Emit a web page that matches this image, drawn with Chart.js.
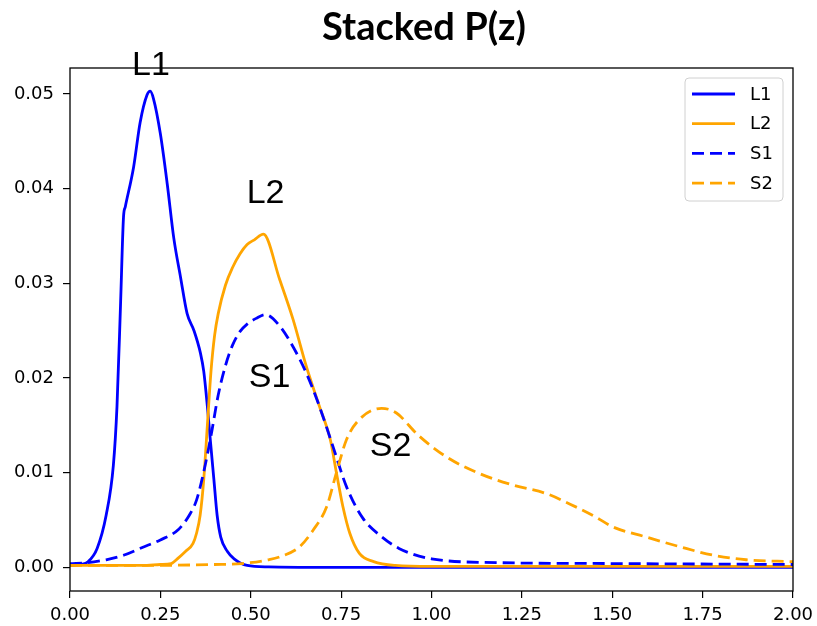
<!DOCTYPE html>
<html>
<head>
<meta charset="utf-8">
<script src="https://cdn.jsdelivr.net/npm/chart.js@4.4.0/dist/chart.umd.min.js"></script>
<style>
  body { margin: 0; background: #fff; }
  canvas { display: block; }
</style>
</head>
<body>
<canvas id="pz-chart" width="817" height="626"></canvas>
<script>
// P(z) curves, one z array and one P array per series
const l1Z = [0, 0.03, 0.05, 0.075, 0.10, 0.12, 0.13, 0.14, 0.148, 0.153, 0.176, 0.194, 0.213, 0.222, 0.231, 0.25, 0.269, 0.287, 0.306, 0.324, 0.343, 0.361, 0.37, 0.38, 0.389, 0.398, 0.407, 0.417, 0.435, 0.454, 0.49, 0.55, 0.7, 1.0, 1.5, 2.0];
const l1P = [0.0002, 0.0003, 0.0006, 0.002, 0.0055, 0.0108, 0.017, 0.028, 0.037, 0.0381, 0.0423, 0.047, 0.0499, 0.0503, 0.0495, 0.0458, 0.0405, 0.0348, 0.0306, 0.0268, 0.025, 0.0226, 0.0207, 0.017, 0.0131, 0.0093, 0.0055, 0.0032, 0.0017, 0.0009, 0.0002, 0.00005, 0, 0, 0, 0];

const l2Z = [0, 0.1, 0.2, 0.25, 0.28, 0.30, 0.32, 0.34, 0.35, 0.36, 0.37, 0.38, 0.39, 0.40, 0.41, 0.43, 0.45, 0.47, 0.49, 0.51, 0.535, 0.58, 0.617, 0.654, 0.69, 0.72, 0.737, 0.755, 0.774, 0.80, 0.84, 0.90, 1.0, 1.5, 2.0];
const l2P = [0.0002, 0.0002, 0.0002, 0.0003, 0.0004, 0.001, 0.0017, 0.0025, 0.0036, 0.0055, 0.0093, 0.015, 0.0207, 0.0245, 0.0268, 0.0298, 0.0317, 0.0331, 0.0341, 0.0346, 0.0352, 0.0304, 0.0262, 0.0212, 0.017, 0.0135, 0.01, 0.0064, 0.0036, 0.0015, 0.0006, 0.0002, 0.0001, 0.0001, 0.0001];

const s1Z = [0, 0.05, 0.1, 0.15, 0.2, 0.25, 0.3, 0.33, 0.35, 0.37, 0.39, 0.41, 0.43, 0.45, 0.47, 0.49, 0.515, 0.54, 0.58, 0.617, 0.654, 0.69, 0.728, 0.765, 0.81, 0.86, 0.91, 1.0, 1.18, 1.5, 2.0];
const s1P = [0.0004, 0.0005, 0.0008, 0.0013, 0.0021, 0.0029, 0.004, 0.0055, 0.0071, 0.0101, 0.0139, 0.0182, 0.0213, 0.0235, 0.0249, 0.0257, 0.0263, 0.0267, 0.0255, 0.0233, 0.0205, 0.017, 0.0127, 0.0085, 0.0052, 0.0033, 0.002, 0.0009, 0.0005, 0.0004, 0.0003];

const s2Z = [0, 0.2, 0.4, 0.475, 0.55, 0.58, 0.636, 0.672, 0.71, 0.737, 0.765, 0.80, 0.862, 0.903, 0.962, 1.04, 1.133, 1.225, 1.317, 1.382, 1.455, 1.5, 1.594, 1.685, 1.777, 1.87, 2.0];
const s2P = [0.0002, 0.0002, 0.0003, 0.0004, 0.0008, 0.0011, 0.0022, 0.0039, 0.0064, 0.01, 0.0135, 0.0156, 0.0168, 0.0163, 0.014, 0.0117, 0.0099, 0.0087, 0.0078, 0.0067, 0.0053, 0.0043, 0.0032, 0.0022, 0.0013, 0.0008, 0.0006];

const seriesNames = ['L1', 'L2', 'S1', 'S2'];
const xTicks = [0, 0.25, 0.5, 0.75, 1.0, 1.25, 1.5, 1.75, 2.0];
const yTicks = [0, 0.01, 0.02, 0.03, 0.04, 0.05];

// text labels placed next to the curves (z, P)
const noteNames = ['L1', 'L2', 'S1', 'S2'];
const noteZ = [0.224, 0.541, 0.552, 0.887];
const noteP = [0.0530, 0.0395, 0.0200, 0.0128];

const BLUE = '#0000ff';
const ORANGE = '#ffa500';
const tickFont = { family: 'DejaVu Sans', size: 18 };

function toPoints(zs, ps) {
    return zs.map((z, i) => ({ x: z, y: ps[i] }));
}

// frame, title, curve labels and the legend box
const extrasPlugin = {
    id: 'extras',
    afterDraw(chart) {
        const ctx = chart.ctx;
        const area = chart.chartArea;
        const xs = chart.scales.x;
        const ys = chart.scales.y;

        ctx.save();
        ctx.strokeStyle = '#000';
        ctx.lineWidth = 1.3;
        ctx.strokeRect(area.left, area.top, area.right - area.left, area.bottom - area.top);

        // title
        ctx.fillStyle = '#000';
        ctx.font = 'bold 38px Lato';
        ctx.textAlign = 'center';
        ctx.textBaseline = 'middle';
        ctx.fillText('Stacked P(z)', 424, 28);

        // curve labels
        ctx.font = '34px "Liberation Sans"';
        noteNames.forEach((name, i) => {
            ctx.fillText(name, xs.getPixelForValue(noteZ[i]), ys.getPixelForValue(noteP[i]));
        });

        // legend
        const boxW = 98, boxH = 123;
        const bx = area.right - 10 - boxW;
        const by = area.top + 10;
        ctx.beginPath();
        ctx.roundRect(bx, by, boxW, boxH, 4);
        ctx.fillStyle = 'rgba(255,255,255,0.85)';
        ctx.fill();
        ctx.strokeStyle = '#d0d0d0';
        ctx.lineWidth = 1;
        ctx.stroke();

        ctx.font = '18px "DejaVu Sans"';
        ctx.textAlign = 'left';
        chart.data.datasets.forEach((ds, i) => {
            const ly = by + 16 + i * 29.7;
            ctx.beginPath();
            ctx.setLineDash(ds.borderDash || []);
            ctx.strokeStyle = ds.borderColor;
            ctx.lineWidth = ds.borderWidth;
            ctx.moveTo(bx + 7, ly);
            ctx.lineTo(bx + 50, ly);
            ctx.stroke();
            ctx.setLineDash([]);
            ctx.fillStyle = '#000';
            ctx.fillText(ds.label, bx + 65, ly + 1);
        });
        ctx.restore();
    }
};

const ctxPz = document.getElementById('pz-chart').getContext('2d');
new Chart(ctxPz, {
    type: 'line',
    data: {
        datasets: [
            { label: seriesNames[0], data: toPoints(l1Z, l1P), borderColor: BLUE, borderWidth: 2.8, order: 4 },
            { label: seriesNames[1], data: toPoints(l2Z, l2P), borderColor: ORANGE, borderWidth: 2.8, order: 3 },
            { label: seriesNames[2], data: toPoints(s1Z, s1P), borderColor: BLUE, borderWidth: 2.8, borderDash: [12, 6], order: 2 },
            { label: seriesNames[3], data: toPoints(s2Z, s2P), borderColor: ORANGE, borderWidth: 2.8, borderDash: [12, 6], order: 1 }
        ]
    },
    options: {
        responsive: false,
        animation: false,
        layout: { padding: { top: 68, right: 24, left: 0, bottom: 0 } },
        elements: {
            point: { radius: 0 },
            line: { cubicInterpolationMode: 'monotone', fill: false }
        },
        plugins: {
            legend: { display: false },
            title: { display: false },
            tooltip: { enabled: false }
        },
        scales: {
            x: {
                type: 'linear',
                min: 0,
                max: 2,
                afterBuildTicks: (s) => { s.ticks = xTicks.map(v => ({ value: v })); },
                afterFit: (s) => { s.height = 35; s.paddingRight = 0; s.paddingLeft = 0; },
                ticks: {
                    autoSkip: false,
                    maxRotation: 0,
                    padding: 7,
                    color: '#000',
                    font: tickFont,
                    callback: (v) => Number(v).toFixed(2)
                },
                grid: { drawOnChartArea: false, drawTicks: true, tickLength: 7, color: '#000', lineWidth: 1.2 },
                border: { display: false }
            },
            y: {
                type: 'linear',
                min: -0.0025,
                max: 0.05275,
                afterBuildTicks: (s) => { s.ticks = yTicks.map(v => ({ value: v })); },
                afterFit: (s) => { s.width = 70; },
                ticks: {
                    autoSkip: false,
                    padding: 9,
                    color: '#000',
                    font: tickFont,
                    callback: (v) => Number(v).toFixed(2)
                },
                grid: { drawOnChartArea: false, drawTicks: true, tickLength: 7, color: '#000', lineWidth: 1.2 },
                border: { display: false }
            }
        }
    },
    plugins: [extrasPlugin]
});
</script>
</body>
</html>
